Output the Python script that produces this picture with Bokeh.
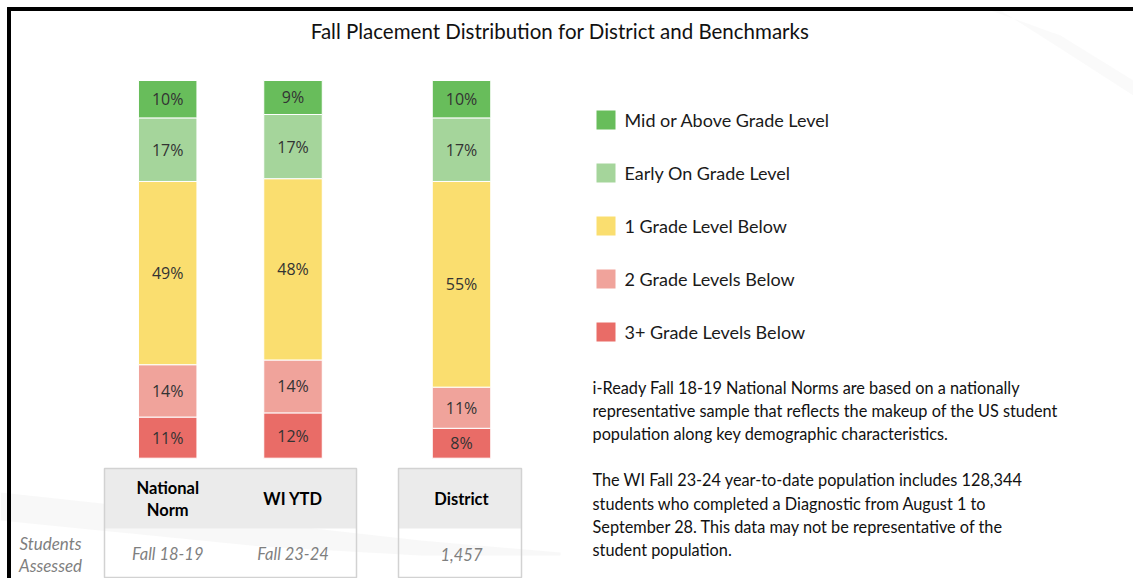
from bokeh.plotting import figure
from bokeh.models import Range1d, ColumnDataSource, Legend, LegendItem
from bokeh.core.properties import value
from bokeh.embed import file_html
from bokeh.resources import INLINE

# ---------------- data ----------------
groups = ["National Norm", "WI YTD", "District"]
levels = ["3+ Grade Levels Below", "2 Grade Levels Below", "1 Grade Level Below",
          "Early On Grade Level", "Mid or Above Grade Level"]
below3 = [11, 12, 8]
below2 = [14, 14, 11]
below1 = [49, 48, 55]
early = [17, 17, 17]
mid = [10, 9, 10]
header_lines = [["National", "Norm"], ["WI YTD"], ["District"]]
assessed = ["Fall 18-19", "Fall 23-24", "1,457"]
row_label = ["Students", "Assessed"]
title = "Fall Placement Distribution for District and Benchmarks"
notes = [
    "i-Ready Fall 18-19 National Norms are based on a nationally",
    "representative sample that reflects the makeup of the US student",
    "population along key demographic characteristics.",
    "",
    "The WI Fall 23-24 year-to-date population includes 128,344",
    "students who completed a Diagnostic from August 1 to",
    "September 28. This data may not be representative of the",
    "student population.",
]

# ---------------- layout / style ----------------
W, H = 1133, 578
BAR_X = [167.2, 292.5, 461.0]
BAR_W = 58.5
BAR_TOP_PX, BAR_BOT_PX = 80.0, 457.7
PX_PER_PCT = (BAR_BOT_PX - BAR_TOP_PX) / 100.0
COLORS = ["#E96C67", "#F0A39B", "#FADE6F", "#A5D59B", "#68BD5B"]
FONT = "Lato"
NUM_FONT = "Open Sans"

p = figure(width=W, height=H, output_backend="svg", toolbar_location=None,
           x_range=Range1d(0, W), y_range=Range1d(H, 0),
           min_border=0, outline_line_color=None)
p.axis.visible = False
p.grid.visible = False
p.background_fill_color = "white"
p.border_fill_color = "white"

# percent range for the bars (0 at bar bottom, 100 at bar top)
pct_start = -(H - BAR_BOT_PX) / PX_PER_PCT
pct_end = 100 + BAR_TOP_PX / PX_PER_PCT
p.extra_y_ranges = {"pct": Range1d(pct_start, pct_end)}

# very faint background swooshes
p.patch(x=[0, 120, 260, 420, 560, 560, 420, 260, 120, 0],
        y=[492, 505, 522, 540, 552, 555, 555, 546, 532, 520],
        color="#F3F3F3", alpha=0.6, line_color=None)
p.patch(x=[990, 1060, 1133, 1133, 1060, 1000],
        y=[10, 35, 80, 95, 48, 10],
        color="#F7F7F7", alpha=0.6, line_color=None)

# ---------------- bars ----------------
series = [below3, below2, below1, early, mid]
totals = [sum(s[i] for s in series) for i in range(len(groups))]
keys = ["s%d" % k for k in range(len(series))]
data = {"x": BAR_X}
for k, s in zip(keys, series):
    data[k] = [v / t * 100 for v, t in zip(s, totals)]
src = ColumnDataSource(data)
rends = p.vbar_stack(keys, x="x", width=BAR_W, source=src, color=COLORS,
                     line_color="white", line_width=1, y_range_name="pct")

# segment labels
lx, ly, lt = [], [], []
for i in range(len(groups)):
    cum = 0
    for k, s in zip(keys, series):
        h = data[k][i]
        lx.append(BAR_X[i]); ly.append(cum + h / 2); lt.append("%d%%" % s[i])
        cum += h
p.text(x=lx, y=ly, text=lt, y_range_name="pct", text_align="center",
       text_baseline="middle", text_font=value(NUM_FONT), text_font_size="16px",
       text_color="#333333")

# ---------------- legend ----------------
items = [LegendItem(label=levels[i], renderers=[rends[i]]) for i in range(len(levels) - 1, -1, -1)]
legend = Legend(items=items, location=(592.5, H - 344.2), orientation="vertical",
                glyph_width=25, glyph_height=25, label_height=25, spacing=28,
                label_standoff=7, padding=0, margin=0, border_line_color=None,
                background_fill_alpha=0, label_text_font=FONT,
                label_text_font_size="18px", label_text_color="#1a1a1a")
p.add_layout(legend, "center")

# ---------------- table ----------------
boxes = [(104, 356), (398, 521)]
TBL_TOP, TBL_MID, TBL_BOT = 468, 528, 577
for l, r in boxes:
    p.quad(left=l, right=r, top=TBL_TOP, bottom=TBL_MID, fill_color="#EBEBEB", line_color=None)
    p.quad(left=l, right=r, top=TBL_TOP, bottom=TBL_BOT, fill_color=None,
           line_color="#D2D2D2", line_width=1.5)

hx, hy, ht = [], [], []
for i, lines in enumerate(header_lines):
    n = len(lines)
    for j, t in enumerate(lines):
        hx.append(BAR_X[i]); hy.append(498.5 + (j - (n - 1) / 2) * 22.5); ht.append(t)
p.text(x=hx, y=hy, text=ht, text_align="center", text_baseline="middle",
       text_font=value(FONT), text_font_style="bold", text_font_size="16.5px",
       text_color="#000000")
p.text(x=BAR_X, y=[553.5] * 3, text=assessed, text_align="center", text_baseline="middle",
       text_font=value(FONT), text_font_style="italic", text_font_size="16.5px",
       text_color="#7F7F7F")
p.text(x=[50, 50], y=[543, 565], text=row_label, text_align="center", text_baseline="middle",
       text_font=value(FONT), text_font_style="italic", text_font_size="17px",
       text_color="#7F7F7F")

# ---------------- title and notes ----------------
p.text(x=[559.5], y=[30], text=[title], text_align="center", text_baseline="middle",
       text_font=value(FONT), text_font_size="20.5px", text_color="#111111")
ny = [387, 410, 433, 456, 479, 502.5, 526, 549]
nx = [592] * len(notes)
p.text(x=nx, y=ny, text=notes, text_align="left", text_baseline="middle",
       text_font=value(FONT), text_font_size="16.3px", text_color="#111111")

# black frame (top and left)
p.quad(left=7, right=W, top=7, bottom=10, color="black")
p.quad(left=7, right=10, top=7, bottom=H, color="black")

open("out.html", "w").write(file_html(p, INLINE))
